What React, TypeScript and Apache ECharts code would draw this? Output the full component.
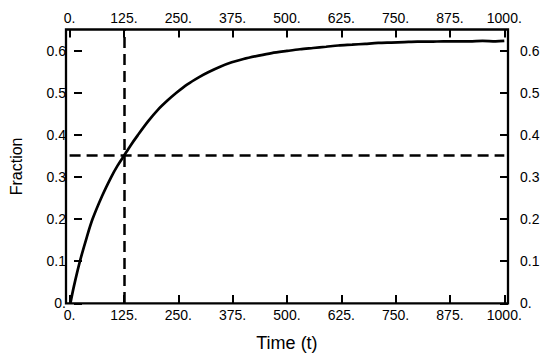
import React, { useEffect, useRef } from "react";
import * as echarts from "echarts";

const timeValues = [2, 10, 24, 40, 53, 75, 96, 110, 125, 140, 157, 180, 203, 225, 245, 270, 298, 320, 345, 373, 400, 435, 465, 500, 530, 560, 590, 618, 650, 680, 710, 740, 770, 800, 830, 860, 890, 920, 950, 980, 1000];
const fractionValues = [0, 0.04, 0.1, 0.158, 0.2, 0.255, 0.3, 0.326, 0.35, 0.374, 0.399, 0.431, 0.459, 0.481, 0.499, 0.519, 0.537, 0.549, 0.561, 0.572, 0.58, 0.588, 0.594, 0.599, 0.603, 0.606, 0.609, 0.612, 0.614, 0.616, 0.618, 0.619, 0.62, 0.621, 0.621, 0.622, 0.622, 0.622, 0.623, 0.622, 0.623];
const xTickStep = 125;
const xMax = 1000;
const yTickStep = 0.1;
const yMax = 0.65;
const refTime = 125;
const refFraction = 0.35;

const FONT = "'Liberation Sans', Arial, sans-serif";

export default function App() {
  const ref = useRef<HTMLDivElement>(null);
  useEffect(() => {
    if (!ref.current) return;
    const chart = echarts.init(ref.current, undefined, { renderer: "svg" });
    const axisTick = { show: true, inside: true, length: 8, lineStyle: { color: "#000", width: 2 } };
    const xAxisBase = (pos: "bottom" | "top", showName: boolean) => ({
      type: "value" as const,
      gridIndex: 1,
      position: pos,
      min: 0,
      max: xMax,
      interval: xTickStep,
      splitLine: { show: false },
      axisLine: { show: false },
      axisTick,
      axisLabel: {
        formatter: (v: number) => `${v}.`,
        color: "#000",
        fontSize: 14,
        fontFamily: FONT,
        margin: 5,
      },
      name: showName ? "Time (t)" : "",
      nameLocation: "middle" as const,
      nameGap: 31,
      nameTextStyle: { color: "#000", fontSize: 18, fontFamily: FONT },
    });
    const yAxisBase = (pos: "left" | "right", showName: boolean) => ({
      type: "value" as const,
      gridIndex: 0,
      position: pos,
      min: 0,
      max: yMax,
      interval: yTickStep,
      splitLine: { show: false },
      axisLine: { show: false },
      axisTick,
      axisLabel: {
        showMaxLabel: false,
        formatter: (v: number) => (v > 0.61 ? "" : v === 0 ? "0." : v.toFixed(1)),
        color: "#000",
        fontSize: 14,
        fontFamily: FONT,
        margin: pos === "left" ? 8 : 12,
      },
      name: showName ? "Fraction" : "",
      nameLocation: "middle" as const,
      nameGap: 50,
      nameRotate: 90,
      nameTextStyle: { color: "#000", fontSize: 16, fontFamily: FONT },
    });
    chart.setOption({
      animation: false,
      backgroundColor: "#fff",
      grid: [
        { left: 66, right: 42, top: 29.5, bottom: 53.7, containLabel: false },
        { left: 69.6, right: 45.7, top: 29.5, bottom: 53.7, containLabel: false },
      ],
      xAxis: [
        xAxisBase("bottom", true),
        xAxisBase("top", false),
        { type: "value", gridIndex: 0, min: 0, max: xMax, show: false },
      ],
      yAxis: [
        yAxisBase("left", true),
        yAxisBase("right", false),
        { type: "value", gridIndex: 1, min: 0, max: yMax, show: false },
      ],
      graphic: [
        {
          type: "rect",
          silent: true,
          z: 100,
          shape: { x: 66, y: 29.5, width: 442, height: 273.8 },
          style: { fill: "none", stroke: "#000", lineWidth: 2.3 },
        },
      ],
      series: [
        {
          type: "line",
          xAxisIndex: 0,
          yAxisIndex: 2,
          data: timeValues.map((t, i) => [t, fractionValues[i]]),
          showSymbol: false,
          smooth: 0.3,
          lineStyle: { color: "#000", width: 2.7 },
          markLine: {
            silent: true,
            symbol: "none",
            label: { show: false },
            lineStyle: { color: "#000", width: 2.5, type: [11, 6] },
            data: [{ xAxis: refTime }, { yAxis: refFraction }],
          },
        },
      ],
    });
    return () => chart.dispose();
  }, []);
  return (
    <div
      ref={ref}
      style={{ position: "absolute", left: 0, top: 0, width: 550, height: 357 }}
    />
  );
}
